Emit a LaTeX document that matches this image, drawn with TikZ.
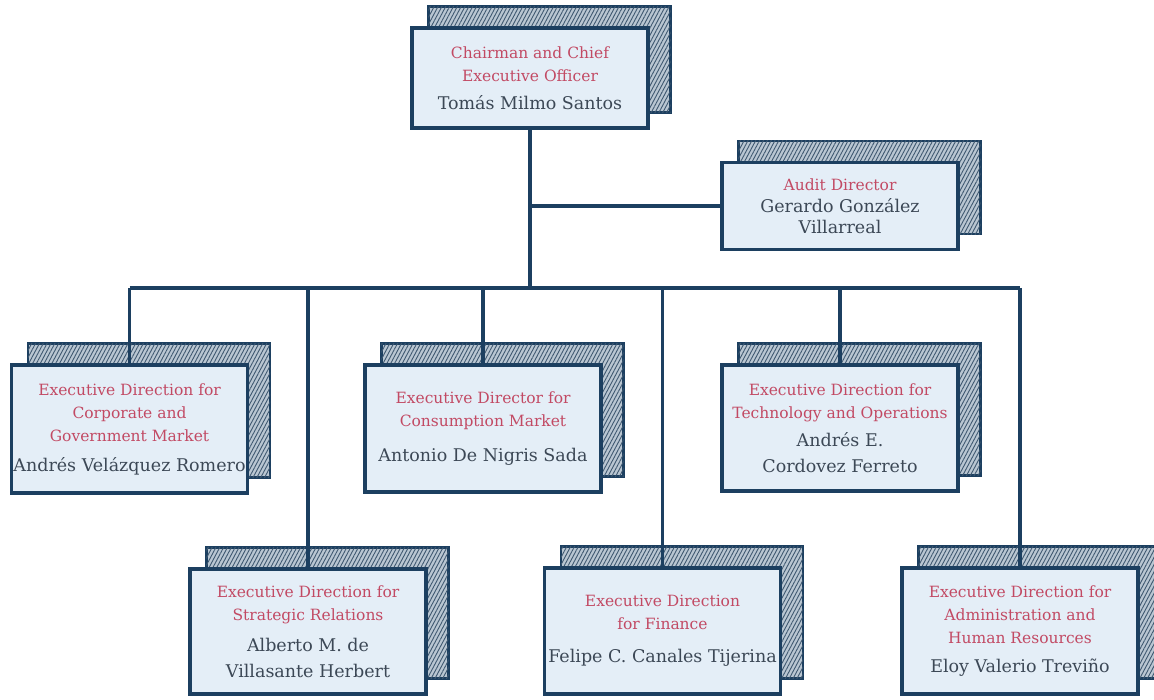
\documentclass[tikz,border=0pt]{standalone}
\usepackage{fontspec}
\setmainfont{DejaVu Serif}
\usetikzlibrary{calc,patterns.meta,backgrounds}
\definecolor{navy}{HTML}{1C3F60}
\definecolor{boxfill}{HTML}{E4EEF7}
\definecolor{backfill}{HTML}{B9C6D2}
\definecolor{hatch}{HTML}{3F5870}
\definecolor{titlered}{HTML}{C24A64}
\definecolor{namegray}{HTML}{3C4856}
\pgfdeclarelayer{back}
\pgfdeclarelayer{mid}
\pgfsetlayers{back,mid,main}
\newcommand\ttl[1]{{\color{titlered}\fontsize{15.5}{23}\selectfont #1}}
\newcommand\nm[1]{{\color{namegray}\fontsize{17.5}{23}\selectfont #1}}
\tikzset{
  front/.style={draw=navy, line width=3.2pt, fill=boxfill, align=center,
    minimum width=236pt, inner sep=1pt, font=\fontsize{15.5}{23}\selectfont},
  backbox/.style={draw=navy, line width=2.4pt, fill=backfill,
    postaction={pattern={Lines[angle=62,distance=3.4pt,line width=0.9pt]}, pattern color=hatch}},
  link/.style={draw=navy, line width=3.4pt}
}
\newcommand\backof[1]{%
  \begin{pgfonlayer}{back}
    \path[backbox] ($(#1.south west)+(18,-17)$) rectangle ($(#1.north east)+(21,-20)$);
  \end{pgfonlayer}}
\begin{document}
\begin{tikzpicture}[x=1pt,y=-1pt]
\useasboundingbox (0,0) rectangle (1154,700);
\node[front, minimum height=100pt] (ceo) at (530,78)
  {\ttl{Chairman and Chief}\\\ttl{Executive Officer}\\[5pt]\nm{Tomás Milmo Santos}};
\node[front, minimum height=87pt] (audit) at (840,206)
  {\ttl{Audit Director}\\[-1pt]\nm{Gerardo González}\\[-2pt]\nm{Villarreal}};
\node[front, minimum height=128pt] (corp) at (129.5,429)
  {\ttl{Executive Direction for}\\\ttl{Corporate and}\\\ttl{Government Market}\\[7pt]\nm{Andrés Velázquez Romero}};
\node[front, minimum height=127pt] (cons) at (483,428.5)
  {\ttl{Executive Director for}\\\ttl{Consumption Market}\\[12pt]\nm{Antonio De Nigris Sada}};
\node[front, minimum height=126pt] (tech) at (840,428)
  {\ttl{Executive Direction for}\\\ttl{Technology and Operations}\\[5pt]\nm{Andrés E.}\\[3pt]\nm{Cordovez Ferreto}};
\node[front, minimum height=125pt] (strat) at (308,631.5)
  {\ttl{Executive Direction for}\\\ttl{Strategic Relations}\\[8pt]\nm{Alberto M. de}\\[3pt]\nm{Villasante Herbert}};
\node[front, minimum height=126pt] (fin) at (662.5,631)
  {\ttl{Executive Direction}\\\ttl{for Finance}\\[10pt]\nm{Felipe C. Canales Tijerina}};
\node[front, minimum height=126pt] (admin) at (1020,631)
  {\ttl{Executive Direction for}\\\ttl{Administration and}\\\ttl{Human Resources}\\[6pt]\nm{Eloy Valerio Treviño}};
\foreach \n in {ceo,audit,corp,cons,tech,strat,fin,admin} {\backof{\n}}
\coordinate (bus) at (531,288);
\begin{pgfonlayer}{mid}
  \draw[link] (ceo.south) -- (ceo.south |- bus);
  \draw[link] (ceo.south |- audit.west) -- (audit.west);
  \draw[link] (corp.north |- bus) -- (admin.north |- bus);
  \foreach \n in {corp,strat,cons,fin,tech,admin}
    \draw[link] (\n.north |- bus) -- (\n.north);
\end{pgfonlayer}
\end{tikzpicture}
\end{document}
